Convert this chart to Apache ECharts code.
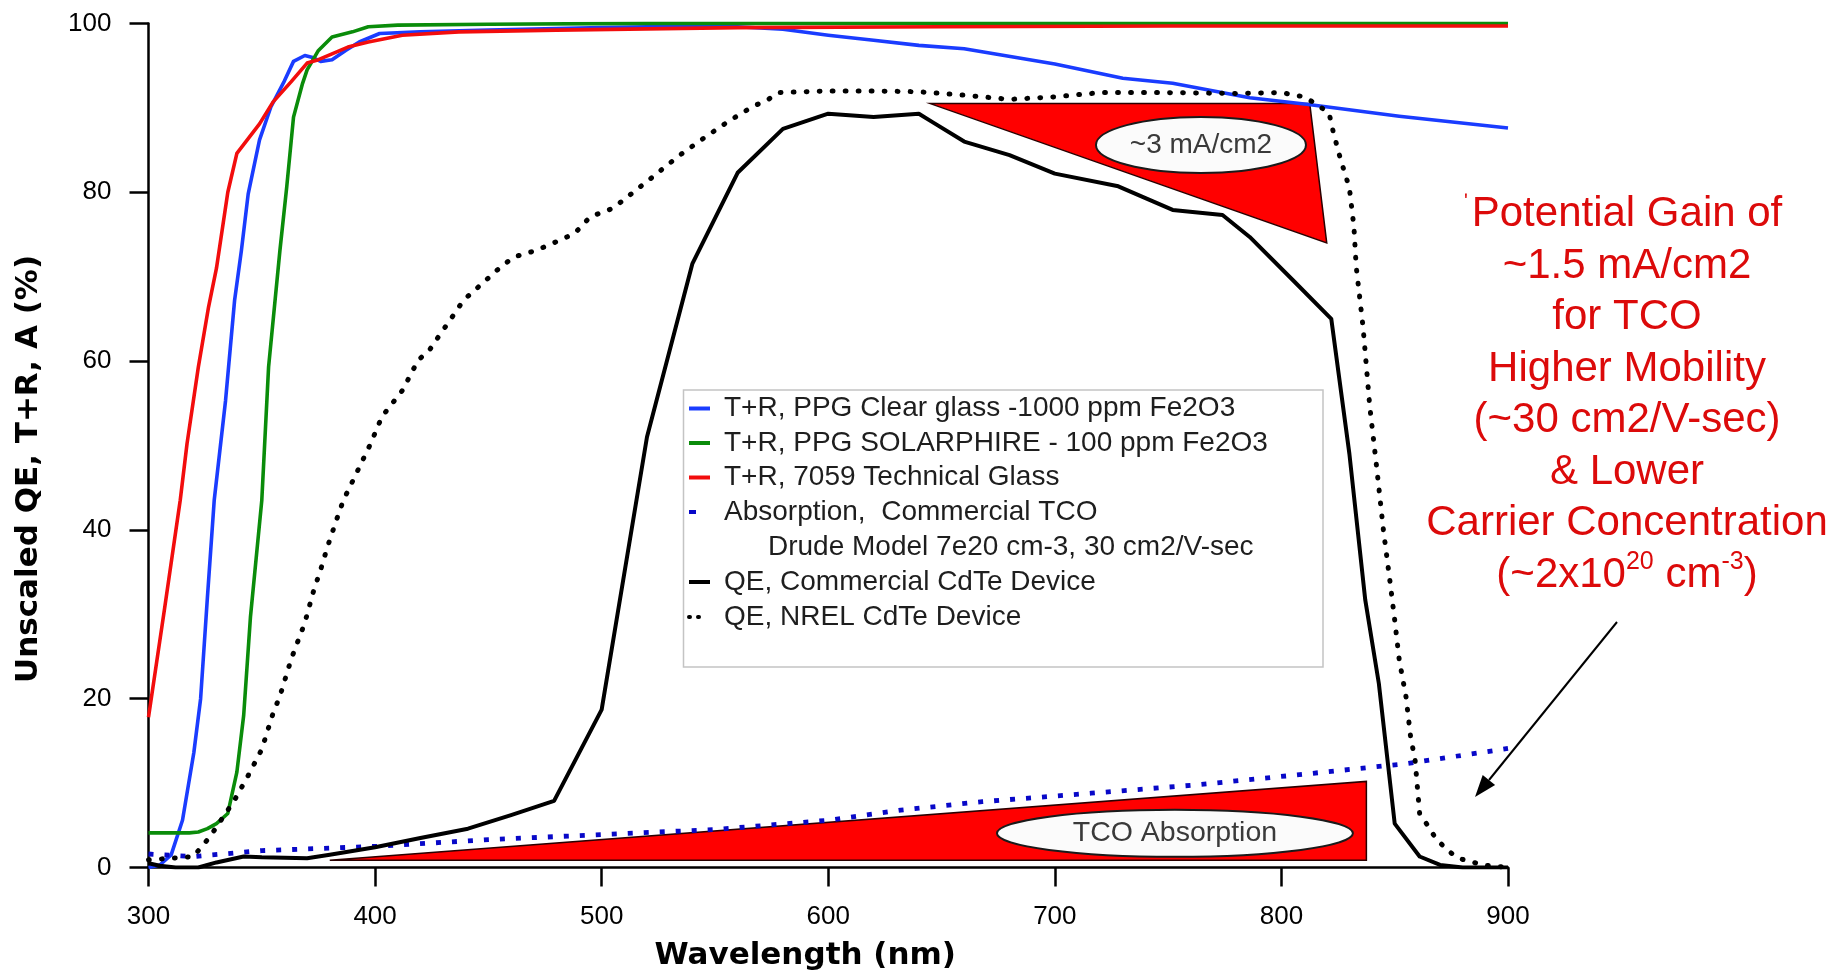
<!DOCTYPE html>
<html><head><meta charset="utf-8">
<script src="https://cdn.jsdelivr.net/npm/echarts/dist/echarts.min.js"></script>
<style>html,body{margin:0;padding:0;background:#fff}#chart{width:1833px;height:980px}</style>
</head><body><div id="chart"></div>
<script>
// ---------- data ----------
const xMin = 300, xMax = 900, xStep = 100;
const yMin = 0, yMax = 100, yStep = 20;
const xTitle = 'Wavelength (nm)';
const yTitle = 'Unscaled QE, T+R, A (%)';

const seriesNames = [
  'T+R, PPG Clear glass -1000 ppm Fe2O3',
  'T+R, PPG SOLARPHIRE - 100 ppm Fe2O3',
  'T+R, 7059 Technical Glass',
  'Absorption,  Commercial TCO',
  'QE, Commercial CdTe Device',
  'QE, NREL CdTe Device'
];
const drudeNote = 'Drude Model 7e20 cm-3, 30 cm2/V-sec';

const clearWl  = [300,305,310,315,320,323,326,329,334,338,341,344,349,354,360,364,369,372,376,381,387,393,402,420,450,500,540,560,580,600,620,640,660,700,730,752,786,812,852,900];
const clearVal = [0,0.3,1.5,5.6,13.6,20,32,43.5,55.3,67.2,73.1,79.8,86.2,90.1,93.2,95.5,96.2,96,95.5,95.7,96.8,97.8,98.8,99,99.2,99.5,99.7,99.6,99.3,98.6,98,97.4,97,95.2,93.5,92.9,91.2,90.4,89,87.6];

const solarWl  = [300,310,318,322,326,330,335,339,342,345,350,353,358,361,364,368,370,375,381,390,397,410,450,520,600,700,800,900];
const solarVal = [4.1,4.1,4.1,4.2,4.6,5.2,6.4,11.3,18,29.7,43.5,59.3,73.1,80.6,88.9,92.9,94.5,96.8,98.4,99,99.6,99.8,99.9,100,100,100,100,100];

const techWl  = [300,307,314,317,322,326.5,330,335,339,349,355,363,370,375,381,388,397,412,437,480,560,650,750,900];
const techVal = [17.8,30.5,43.5,50.2,59.3,66.4,71,80,84.6,88.1,90.7,93.1,95.3,95.7,96.4,97.2,97.8,98.6,99,99.2,99.5,99.6,99.7,99.7];

const absWl  = [300,320,350,400,450,500,550,600,632,668,716,763,808,855,900];
const absVal = [1.6,1.3,2.0,2.5,3.3,3.9,4.5,5.6,6.8,7.8,8.8,9.8,11.0,12.3,14.1];

const qeComWl  = [300,305,312,322,330,342,350,370,380,400,420,441,460,479,500,520,540,560,580,600,620,640,646,660,680,700,728,752,774,786,805,822,830,837,843,850,861,870,880,900];
const qeComVal = [0.5,0.2,0,0,0.6,1.3,1.2,1.1,1.5,2.4,3.5,4.6,6.2,7.9,18.7,51,71.5,82.3,87.5,89.3,88.9,89.3,88.3,86,84.4,82.2,80.7,77.9,77.3,74.7,69.6,65,49,31.7,21.8,5.2,1.3,0.3,0,0];

const qeNrelWl  = [300,320,322,327,338,344,350,355,358,363,369,373,376,379,383,386,393,398,403,412,419,424,427,435,439,444,449,454,461,471,478,488,495,505,522,534,545,556,567,573,578,600,620,640,660,680,700,720,750,780,800,810,815,821,823,826,830,832,833,836,839,842,845,848,850,852,855,857,859,861,865,868,873,878,889,900];
const qeNrelVal = [0.9,1.3,2,3.6,8,10.9,14,18.3,20.3,24.7,29,32.9,35.3,38,41.2,43.5,47.4,50.2,53.4,56.5,60.1,61.3,62.5,65.6,67.2,68.4,69.6,70.8,72.3,73.1,73.9,75.1,77.1,78.1,81.7,84.3,86.4,88.4,90.2,90.9,91.8,92,92,91.9,91.5,91,91.3,91.8,91.8,91.7,91.8,91.3,90.5,89.4,87,84,80.5,75.9,71.2,64.1,54.6,47.5,40,33.7,29.3,24.6,20.2,15.5,12.7,6.4,4.8,3.5,2.1,1.1,0.3,0];

// annotation shapes (data units)
const gainTriangle = [[645,90.5],[812.5,90.5],[820,74]];
const tcoPolygon   = [[380,0.85],[837.5,10.2],[837.5,0.85]];
const gainLabel = '~3 mA/cm2';
const gainLabelCenter = [764.5,85.6];
const tcoLabel = 'TCO Absorption';
const tcoLabelCenter = [753,4.05];

const noteLines = ['Potential Gain of','~1.5 mA/cm2','for TCO','Higher Mobility','(~30 cm2/V-sec)','& Lower','Carrier Concentration','(~2x10{sup|20} cm{sup|-3})'];

// ---------- styles ----------
const styles = [
  {color:'#1a3cff', width:3.6, type:'solid'},
  {color:'#0a8c0a', width:3.6, type:'solid'},
  {color:'#f20d0d', width:3.6, type:'solid'},
  {color:'#0808c8', width:4.8, type:[5,11], cap:'butt'},
  {color:'#000000', width:4, type:'solid'},
  {color:'#000000', width:5, type:[0.8,12.2], cap:'round'}
];
const dataSets = [
  [clearWl, clearVal],[solarWl, solarVal],[techWl, techVal],
  [absWl, absVal],[qeComWl, qeComVal],[qeNrelWl, qeNrelVal]
];
const zip = (a,b) => a.map((x,i)=>[x,b[i]]);

const lineSeries = seriesNames.map((name,i)=>({
  type:'line', name, data: zip(dataSets[i][0], dataSets[i][1]),
  showSymbol:false, symbol:'none', silent:true, z: 5 + i,
  lineStyle:{color:styles[i].color, width:styles[i].width, type:styles[i].type, cap:styles[i].cap||'butt', join:'round'},
  itemStyle:{color:styles[i].color}
}));

function polygonSeries(points, fill){
  return {type:'custom', data: points, silent:true, z:2, clip:false,
    renderItem: function(params, api){
      if (params.dataIndex !== 0) return null;
      const pts = points.map(p => api.coord(p));
      return {type:'polygon', shape:{points:pts}, style:{fill:fill, stroke:'#2a0000', lineWidth:1.5}};
    }};
}
function ellipseSeries(center, rx, ry, label, fontSize){
  return {type:'custom', data:[center], silent:true, z:3, clip:false,
    renderItem: function(params, api){
      const c = api.coord([api.value(0), api.value(1)]);
      return {type:'group', children:[
        {type:'ellipse', shape:{cx:c[0], cy:c[1], rx:rx, ry:ry}, style:{fill:'#fbfbfb', stroke:'#1a1a1a', lineWidth:2}},
        {type:'text', x:c[0], y:c[1], style:{text:label, align:'center', verticalAlign:'middle', textAlign:'center', textVerticalAlign:'middle',
          font: fontSize + 'px "Liberation Sans", Arial, sans-serif', fill:'#3a3a3a'}}
      ]};
    }};
}

// ---------- legend (graphic) ----------
const legendX = 688, legendTextX = 724;
const legendRowY = [408.5, 443, 477.5, 512, 582, 617];
const legendFont = '28px "Liberation Sans", Arial, sans-serif';
const legendGraphics = [{type:'rect', z:50, shape:{x:683.5, y:390, width:639.5, height:277}, style:{fill:'#ffffff', stroke:'#c4c4c4', lineWidth:1.5}}];
const legendMarkerLen = [22,22,22,8,22,14];
seriesNames.forEach((name,i)=>{
  const y = legendRowY[i];
  legendGraphics.push({type:'line', z:51, shape:{x1:legendX+1, y1:y, x2:legendX+legendMarkerLen[i], y2:y},
    style:{stroke:styles[i].color, lineWidth:4, lineDash: Array.isArray(styles[i].type)? (i===5?[1,8]:[7,20]) : null, lineCap: i===5?'round':'butt'}});
  legendGraphics.push({type:'text', z:51, x:legendTextX, y:y, style:{text:name, font:legendFont, fill:'#1e1e1e', textVerticalAlign:'middle', verticalAlign:'middle'}});
});
legendGraphics.push({type:'text', z:51, x:768, y:547, style:{text:drudeNote, font:legendFont, fill:'#1e1e1e', textVerticalAlign:'middle', verticalAlign:'middle'}});

// ---------- red note + arrow ----------
const noteColor = '#dc0a0a';
const noteGraphics = [
  {type:'text', z:60, x:1627, y:189, style:{
    text: noteLines.join('\n'), textAlign:'center', align:'center',
    font:'42px "Liberation Sans", Arial, sans-serif', fill:noteColor, lineHeight:51.5,
    rich:{sup:{fontSize:25, fontFamily:'Liberation Sans', fill:noteColor, color:noteColor, verticalAlign:'top', lineHeight:51.5, padding:[0,0,14,0]}}
  }},
  {type:'text', z:60, x:1466, y:192, style:{text:'ʹ', font:'20px "Liberation Sans", Arial, sans-serif', fill:noteColor, textAlign:'center', align:'center'}},
  {type:'line', z:60, shape:{x1:1617, y1:622, x2:1489, y2:780}, style:{stroke:'#000', lineWidth:2}},
  {type:'polygon', z:60, shape:{points:[[1475,797],[1495.1,784.9],[1482.7,774.9]]}, style:{fill:'#000'}}
];

const axisCommon = {
  axisLine:{show:true, onZero:false, lineStyle:{color:'#000', width:2.5}},
  axisTick:{show:true, inside:false, length:19, lineStyle:{color:'#000', width:2.5}},
  splitLine:{show:false},
  axisLabel:{color:'#000', fontSize:26, fontFamily:'"Liberation Sans", Arial, sans-serif'}
};

const chart = echarts.init(document.getElementById('chart'), null, {renderer:'canvas'});
chart.setOption({
  animation:false,
  backgroundColor:'#ffffff',
  grid:{left:148.5, right:325, top:23.4, bottom:112.5, containLabel:false},
  xAxis: Object.assign({}, axisCommon, {
    type:'value', min:xMin, max:xMax, interval:xStep,
    axisLabel: Object.assign({}, axisCommon.axisLabel, {margin:36}),
    name:xTitle, nameLocation:'middle', nameGap:73,
    nameTextStyle:{fontFamily:'"DejaVu Sans", sans-serif', fontWeight:'bold', fontSize:31, color:'#000', padding:[0,46,0,0]}
  }),
  yAxis: Object.assign({}, axisCommon, {
    type:'value', min:yMin, max:yMax, interval:yStep,
    axisLabel: Object.assign({}, axisCommon.axisLabel, {margin:37}),
    name:yTitle, nameLocation:'middle', nameGap:104, nameRotate:90,
    nameTextStyle:{fontFamily:'"DejaVu Sans", sans-serif', fontWeight:'bold', fontSize:31, color:'#000', padding:[0,47,0,0]}
  }),
  series: [
    polygonSeries(gainTriangle, '#ff0000'),
    polygonSeries(tcoPolygon, '#ff0000'),
    ellipseSeries(gainLabelCenter, 105, 28, gainLabel, 28),
    ellipseSeries(tcoLabelCenter, 178, 23.5, tcoLabel, 28.5)
  ].concat(lineSeries),
  graphic: legendGraphics.concat(noteGraphics)
});
</script></body></html>
